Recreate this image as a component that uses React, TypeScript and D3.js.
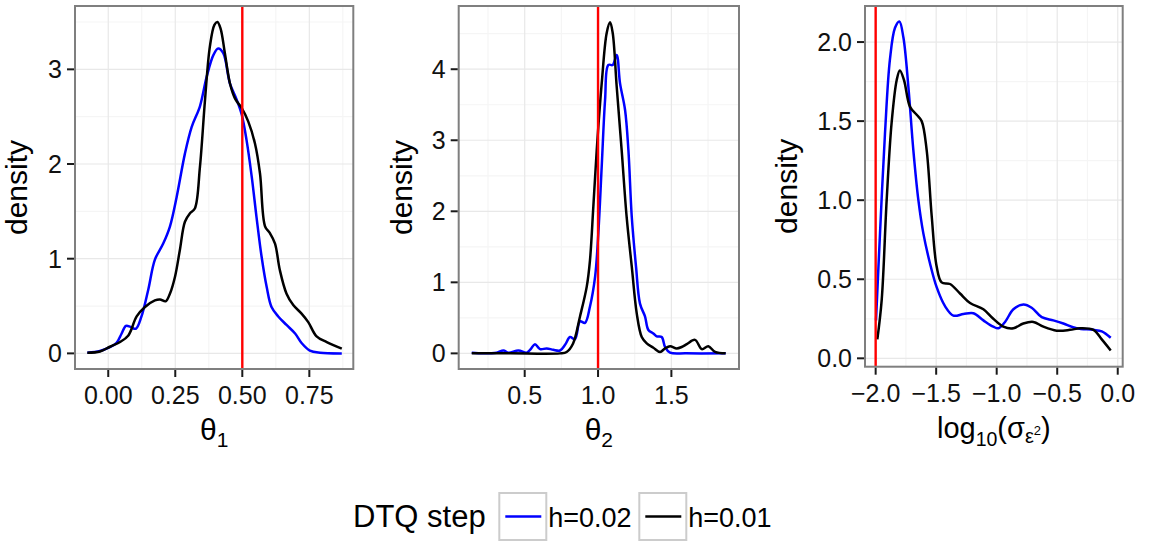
import React from "react";
import * as d3 from "d3";

type Pt = [number, number];

// ---- Data ----
const seriesNames = ["h=0.02", "h=0.01"];
const seriesColors = ["#0000ff", "#000000"];

const theta1H02: Pt[] = [
  [-0.078, 0.007], [-0.031, 0.025], [0.006, 0.065], [0.031, 0.11], [0.05, 0.21], [0.066, 0.29],
  [0.083, 0.28], [0.103, 0.26], [0.124, 0.39], [0.149, 0.67], [0.174, 0.99], [0.205, 1.16],
  [0.23, 1.34], [0.255, 1.65], [0.286, 2.11], [0.311, 2.39], [0.342, 2.61], [0.367, 2.92],
  [0.392, 3.15], [0.41, 3.22], [0.429, 3.17], [0.454, 2.85], [0.479, 2.68], [0.498, 2.52],
  [0.516, 2.25], [0.535, 1.87], [0.553, 1.44], [0.572, 1.02], [0.591, 0.7], [0.609, 0.49],
  [0.634, 0.39], [0.665, 0.3], [0.697, 0.21], [0.721, 0.11], [0.752, 0.03], [0.79, 0.007], [0.871, 0.0],
];
const theta1H01: Pt[] = [
  [-0.078, 0.007], [-0.031, 0.02], [0.006, 0.07], [0.044, 0.12], [0.075, 0.19], [0.106, 0.39],
  [0.137, 0.49], [0.174, 0.56], [0.193, 0.57], [0.214, 0.55], [0.23, 0.63], [0.249, 0.81],
  [0.267, 1.09], [0.286, 1.39], [0.305, 1.48], [0.323, 1.53], [0.342, 1.97], [0.361, 2.68],
  [0.379, 3.24], [0.396, 3.47], [0.407, 3.5], [0.419, 3.43], [0.435, 3.17], [0.454, 2.85],
  [0.473, 2.69], [0.498, 2.59], [0.522, 2.45], [0.547, 2.22], [0.566, 1.9], [0.585, 1.34],
  [0.603, 1.27], [0.622, 1.16], [0.64, 0.88], [0.665, 0.63], [0.69, 0.51], [0.721, 0.42],
  [0.746, 0.33], [0.777, 0.18], [0.815, 0.12], [0.871, 0.05],
];

const theta2H02: Pt[] = [
  [0.139, 0.01], [0.218, 0.0], [0.309, 0.01], [0.355, 0.04], [0.389, 0.01], [0.457, 0.04],
  [0.514, 0.01], [0.541, 0.06], [0.57, 0.13], [0.605, 0.06], [0.65, 0.07], [0.695, 0.05],
  [0.741, 0.04], [0.775, 0.12], [0.809, 0.23], [0.843, 0.2], [0.877, 0.45], [0.911, 0.43],
  [0.945, 0.66], [0.98, 1.08], [1.002, 1.69], [1.025, 2.63], [1.048, 3.57], [1.07, 4.06],
  [1.1, 4.06], [1.127, 4.2], [1.15, 3.8], [1.184, 3.43], [1.207, 2.86], [1.23, 1.92],
  [1.259, 1.22], [1.286, 0.7], [1.32, 0.52], [1.343, 0.33], [1.377, 0.28], [1.4, 0.24],
  [1.434, 0.23], [1.457, 0.09], [1.491, 0.01], [1.6, 0.0], [1.87, 0.0],
];
const theta2H01: Pt[] = [
  [0.139, 0.0], [0.4, 0.0], [0.74, 0.0], [0.786, 0.02], [0.83, 0.14], [0.877, 0.52],
  [0.923, 0.94], [0.945, 1.31], [0.968, 2.07], [0.991, 2.86], [1.025, 3.8], [1.059, 4.51],
  [1.082, 4.66], [1.1, 4.51], [1.127, 3.76], [1.161, 2.86], [1.195, 1.92], [1.23, 1.22],
  [1.264, 0.56], [1.298, 0.23], [1.332, 0.14], [1.377, 0.08], [1.423, 0.02], [1.457, 0.07],
  [1.491, 0.1], [1.536, 0.07], [1.57, 0.09], [1.605, 0.13], [1.661, 0.19], [1.707, 0.06],
  [1.752, 0.1], [1.798, 0.02], [1.87, 0.0],
];

const sigmaH02: Pt[] = [
  [-1.997, 0.24], [-1.964, 0.79], [-1.923, 1.42], [-1.882, 1.89], [-1.84, 2.09], [-1.804, 2.13],
  [-1.771, 2.03], [-1.73, 1.72], [-1.689, 1.32], [-1.647, 1.0], [-1.606, 0.79], [-1.551, 0.6],
  [-1.496, 0.45], [-1.427, 0.33], [-1.358, 0.27], [-1.275, 0.28], [-1.193, 0.285], [-1.11, 0.24],
  [-1.028, 0.2], [-0.986, 0.19], [-0.931, 0.23], [-0.862, 0.31], [-0.78, 0.34], [-0.711, 0.32],
  [-0.628, 0.26], [-0.532, 0.24], [-0.449, 0.22], [-0.339, 0.19], [-0.201, 0.18], [-0.132, 0.17],
  [-0.058, 0.13],
];
const sigmaH01: Pt[] = [
  [-1.986, 0.12], [-1.95, 0.37], [-1.909, 1.0], [-1.868, 1.49], [-1.826, 1.76], [-1.8, 1.82],
  [-1.766, 1.76], [-1.716, 1.59], [-1.661, 1.54], [-1.62, 1.5], [-1.579, 1.32], [-1.537, 0.9],
  [-1.496, 0.58], [-1.455, 0.48], [-1.386, 0.47], [-1.303, 0.41], [-1.22, 0.35], [-1.11, 0.31],
  [-1.028, 0.25], [-0.945, 0.2], [-0.862, 0.19], [-0.78, 0.22], [-0.697, 0.23], [-0.614, 0.2],
  [-0.504, 0.175], [-0.394, 0.18], [-0.311, 0.19], [-0.201, 0.18], [-0.132, 0.12], [-0.058, 0.05],
];

const trueValues = [0.5, 1.0, -2.0];

const p1XTicks = [0, 0.25, 0.5, 0.75];
const p1YTicks = [0, 1, 2, 3];
const p2XTicks = [0.5, 1.0, 1.5];
const p2YTicks = [0, 1, 2, 3, 4];
const p3XTicks = [-2.0, -1.5, -1.0, -0.5, 0.0];
const p3YTicks = [0, 0.5, 1.0, 1.5, 2.0];

const FONT = "'Liberation Sans', Arial, Helvetica, sans-serif";
const TICK_FS = 25;
const TITLE_FS = 30;

interface PanelProps {
  left: number; right: number; top: number; bottom: number;
  xDomain: [number, number]; yDomain: [number, number];
  xTicks: number[]; yTicks: number[];
  xFmt: (v: number) => string; yFmt: (v: number) => string;
  series: Pt[][];
  vline: number;
  yTitleX: number;
  xTitle: React.ReactNode;
}

function minorBetween(ticks: number[], domain: [number, number]): number[] {
  const step = ticks[1] - ticks[0];
  const out: number[] = [];
  const start = ticks[0] - step / 2;
  for (let v = start - step * 10; v <= domain[1] + 1e-9; v += step) {
    if (v >= domain[0] - 1e-9) out.push(v);
  }
  return out;
}

function Panel(p: PanelProps) {
  const x = d3.scaleLinear().domain(p.xDomain).range([p.left, p.right]);
  const y = d3.scaleLinear().domain(p.yDomain).range([p.bottom, p.top]);
  const line = d3.line<Pt>().x(d => x(d[0])).y(d => y(d[1])).curve(d3.curveCatmullRom.alpha(0.5));
  const xMinor = minorBetween(p.xTicks, p.xDomain);
  const yMinor = minorBetween(p.yTicks, p.yDomain);
  const tickLen = 7;
  const clipId = `clip-${Math.round(p.left)}`;
  return (
    <g>
      <defs>
        <clipPath id={clipId}>
          <rect x={p.left} y={p.top} width={p.right - p.left} height={p.bottom - p.top} />
        </clipPath>
      </defs>
      <rect x={p.left} y={p.top} width={p.right - p.left} height={p.bottom - p.top} fill="#ffffff" />
      {xMinor.map((v, i) => (
        <line key={`xm${i}`} x1={x(v)} x2={x(v)} y1={p.top} y2={p.bottom} stroke="#f5f5f5" strokeWidth={1.2} />
      ))}
      {yMinor.map((v, i) => (
        <line key={`ym${i}`} x1={p.left} x2={p.right} y1={y(v)} y2={y(v)} stroke="#f5f5f5" strokeWidth={1.2} />
      ))}
      {p.xTicks.map((v, i) => (
        <line key={`xg${i}`} x1={x(v)} x2={x(v)} y1={p.top} y2={p.bottom} stroke="#e8e8e8" strokeWidth={1.2} />
      ))}
      {p.yTicks.map((v, i) => (
        <line key={`yg${i}`} x1={p.left} x2={p.right} y1={y(v)} y2={y(v)} stroke="#e8e8e8" strokeWidth={1.2} />
      ))}
      <g clipPath={`url(#${clipId})`}>
        {p.series.map((s, i) => (
          <path key={`s${i}`} d={line(s) || ""} fill="none" stroke={seriesColors[i]} strokeWidth={2.5} strokeLinejoin="round" />
        ))}
        <line x1={x(p.vline)} x2={x(p.vline)} y1={p.top} y2={p.bottom} stroke="#ff0000" strokeWidth={2.4} />
      </g>
      <rect x={p.left} y={p.top} width={p.right - p.left} height={p.bottom - p.top} fill="none" stroke="#7f7f7f" strokeWidth={2} />
      {p.xTicks.map((v, i) => (
        <g key={`xt${i}`}>
          <line x1={x(v)} x2={x(v)} y1={p.bottom + 1} y2={p.bottom + tickLen + 1} stroke="#1a1a1a" strokeWidth={2} />
          <text x={x(v)} y={p.bottom + 35} textAnchor="middle" fontSize={TICK_FS} fontFamily={FONT} fill="#111">
            {p.xFmt(v)}
          </text>
        </g>
      ))}
      {p.yTicks.map((v, i) => (
        <g key={`yt${i}`}>
          <line x1={p.left - tickLen - 1} x2={p.left - 1} y1={y(v)} y2={y(v)} stroke="#1a1a1a" strokeWidth={2} />
          <text x={p.left - tickLen - 6} y={y(v)} dy="0.36em" textAnchor="end" fontSize={TICK_FS} fontFamily={FONT} fill="#111">
            {p.yFmt(v)}
          </text>
        </g>
      ))}
      <text transform={`translate(${p.yTitleX},${(p.top + p.bottom) / 2}) rotate(-90)`} textAnchor="middle"
        fontSize={TITLE_FS} fontFamily={FONT} fill="#000">density</text>
      {p.xTitle}
    </g>
  );
}

export default function App() {
  const f2 = d3.format(".2f");
  const f1 = d3.format(".1f");
  const fd = d3.format("d");
  const series = [
    [theta1H02, theta1H01],
    [theta2H02, theta2H01],
    [sigmaH02, sigmaH01],
  ];
  const c1 = (75 + 353.3) / 2;
  const c2 = (458.7 + 739) / 2;
  const c3 = (865 + 1122.7) / 2;
  return (
    <svg width={1149} height={542} style={{ position: "absolute", left: 0, top: 0, background: "#fff" }}>
      <rect x={0} y={0} width={1149} height={542} fill="#fff" />
      <Panel left={75} right={353.3} top={6} bottom={369}
        xDomain={[-0.124, 0.914]} yDomain={[-0.165, 3.669]}
        xTicks={p1XTicks} yTicks={p1YTicks} xFmt={f2} yFmt={fd}
        series={series[0]} vline={trueValues[0]} yTitleX={27}
        xTitle={
          <text x={c1} y={440} textAnchor="middle" fontFamily={FONT} fontSize={TITLE_FS}>
            θ<tspan fontSize={21} dy={7}>1</tspan>
          </text>
        } />
      <Panel left={458.7} right={739} top={6} bottom={369}
        xDomain={[0.05, 1.961]} yDomain={[-0.22, 4.89]}
        xTicks={p2XTicks} yTicks={p2YTicks} xFmt={f1} yFmt={fd}
        series={series[1]} vline={trueValues[1]} yTitleX={412}
        xTitle={
          <text x={c2} y={440} textAnchor="middle" fontFamily={FONT} fontSize={TITLE_FS}>
            θ<tspan fontSize={21} dy={7}>2</tspan>
          </text>
        } />
      <Panel left={865} right={1122.7} top={6} bottom={366.7}
        xDomain={[-2.088, 0.041]} yDomain={[-0.053, 2.228]}
        xTicks={p3XTicks} yTicks={p3YTicks} xFmt={f1} yFmt={f1}
        series={series[2]} vline={trueValues[2]} yTitleX={797}
        xTitle={
          <text x={c3} y={438} textAnchor="middle" fontFamily={FONT} fontSize={29}>
            log<tspan fontSize={19.5} dy={8}>10</tspan><tspan dy={-8}>(σ</tspan>
            <tspan fontSize={20} dy={5}>ε</tspan><tspan fontSize={13} dy={-8}>2</tspan>
            <tspan dy={3}>)</tspan>
          </text>
        } />
      {/* Legend */}
      <g fontFamily={FONT}>
        <text x={353} y={527} fontSize={31} fill="#000">DTQ step</text>
        {seriesNames.map((name, i) => {
          const kx = 499.3 + i * 140;
          return (
            <g key={name}>
              <rect x={kx} y={493} width={47} height={47} fill="#fff" stroke="#cccccc" strokeWidth={2} />
              <line x1={kx + 6} x2={kx + 42} y1={516.5} y2={516.5} stroke={seriesColors[i]} strokeWidth={2.5} />
              <text x={kx + 49} y={527} fontSize={27} fill="#000">{name}</text>
            </g>
          );
        })}
      </g>
    </svg>
  );
}
